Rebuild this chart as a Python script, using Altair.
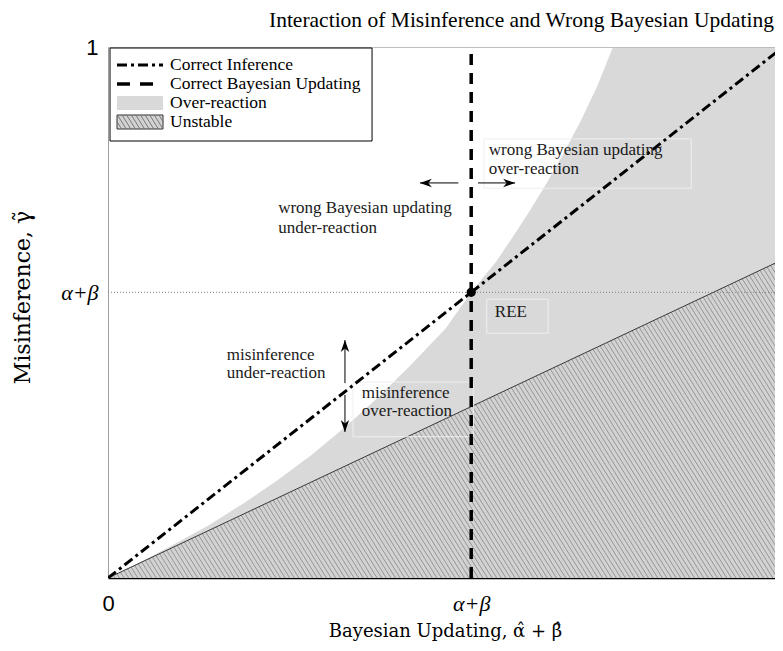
import altair as alt
import numpy as np
import pandas as pd

AB = 0.538  # alpha + beta

# Over-reaction upper boundary
curve_x = [0, 0.05, 0.1, 0.15, 0.2, 0.25, 0.3, 0.35, 0.4, 0.45, 0.5, 0.538, 0.575, 0.6, 0.625, 0.65,
           0.675, 0.7, 0.725, 0.748, 0.8, 0.9, 1.0]
curve_y = [0, 0.031, 0.065, 0.10, 0.14, 0.183, 0.23, 0.283, 0.34, 0.403, 0.47, 0.538, 0.596, 0.643, 0.692, 0.744,
           0.80, 0.86, 0.927, 1.0, 1.0, 1.0, 1.0]
# Unstable boundary
unst_x = [0, 1]
unst_y = [0, 0.6]
# Correct inference
ci_x = [0, 1]
ci_y = [0, 1]
# Correct Bayesian updating
cb_x = [AB, AB]
cb_y = [0, 1]

# annotations
ann_text = ["wrong Bayesian updating", "over-reaction", "wrong Bayesian updating", "under-reaction",
            "misinference", "under-reaction", "misinference", "over-reaction", "REE"]
ann_x = [0.564, 0.564, 0.252, 0.252, 0.176, 0.176, 0.376, 0.376, 0.573]
ann_y = [0.806, 0.770, 0.697, 0.659, 0.420, 0.386, 0.348, 0.314, 0.501]

box_x = [0.557, 0.363, 0.561]
box_x2 = [0.864, 0.541, 0.652]
box_y = [0.827, 0.369, 0.525]
box_y2 = [0.734, 0.266, 0.461]

arr_x = [0.519, 0.548, 0.351, 0.351]
arr_y = [0.744, 0.744, 0.367, 0.345]
arr_x2 = [0.462, 0.603, 0.351, 0.351]
arr_y2 = [0.744, 0.744, 0.448, 0.275]
arr_dir = ["left", "right", "up", "down"]

legend_labels = ["Correct Inference", "Correct Bayesian Updating", "Over-reaction", "Unstable"]

UNIT_W, H = 675, 531          # pixels per unit on x and y
XMAX = 0.988                  # visible part of the x range (figure is cut at the right)
W = int(round(UNIT_W * XMAX))
SERIF = "Liberation Serif"
MATHSERIF = "DejaVu Serif"
SANS = "Liberation Sans"

xs = alt.Scale(domain=[0, XMAX], nice=False, zero=False)
ys = alt.Scale(domain=[0, 1], nice=False, zero=False)

xaxis = alt.Axis(
    values=[0, AB], title="Bayesian Updating, \u03b1\u0302 + \u03b2\u0302",
    labelExpr="datum.value == 0 ? '0' : '\u03b1+\u03b2'",
    labelFont={"condition": {"test": "datum.value == 0", "value": SANS}, "value": SERIF},
    labelFontStyle={"condition": {"test": "datum.value == 0", "value": "normal"}, "value": "italic"},
    labelFontSize=22, labelColor="black", labelPadding=15, labelFlush=False, labelOverlap=False,
    ticks=False, grid=False, domainColor="black", domainWidth=1.5,
    titleFont=MATHSERIF, titleFontSize=18, titleFontWeight="normal", titleColor="black",
    titleX=337, titleY=53, titleBaseline="middle",
)
yaxis = alt.Axis(
    values=[AB, 1], title="Misinference, \u03b3\u0303",
    labelExpr="datum.value == 1 ? '1' : '\u03b1+\u03b2'",
    labelFont={"condition": {"test": "datum.value == 1", "value": SANS}, "value": SERIF},
    labelFontStyle={"condition": {"test": "datum.value == 1", "value": "normal"}, "value": "italic"},
    labelFontSize=22, labelColor="black", labelPadding=10, labelOverlap=False, labelFlush=False,
    ticks=False, grid=False, domainColor="#a0a0a0", domainWidth=1,
    titleFont=MATHSERIF, titleFontSize=22, titleFontWeight="normal", titleColor="black",
    titleX=-86, titleY=250, titleBaseline="middle", titleAngle=-90,
)

def X(f="x"):
    return alt.X(f + ":Q", scale=xs, axis=xaxis)

def Y(f="y"):
    return alt.Y(f + ":Q", scale=ys, axis=yaxis)

# over-reaction area
over = alt.Chart(pd.DataFrame({"x": curve_x, "y": curve_y})).mark_area(
    color="#d9d9d9", interpolate="linear", opacity=1, clip=True
).encode(x=X(), y=Y(), y2=alt.datum(0))

# unstable triangle
unst = alt.Chart(pd.DataFrame({"x": unst_x, "y": unst_y})).mark_area(color="#d2d2d2", opacity=1, clip=True).encode(
    x=X(), y=Y(), y2=alt.datum(0))

# hatch lines (style) inside the unstable triangle
ang = np.radians(58)
k = np.tan(ang) * UNIT_W / H
dc = k * 4.6 / UNIT_W
segs = []
for c in np.arange(dc / 2, k + 0.6, dc):
    xa = c / (k + 0.6); ya = 0.6 * xa
    if xa > 1:
        xa, ya = 1.0, c - k
    xb, yb = c / k, 0.0
    if xb > 1:
        xb, yb = 1.0, c - k
    if ya > yb:
        segs.append((xa, ya, xb, yb))
hatch_df = pd.DataFrame(segs, columns=["x", "y", "x2", "y2"])
hatch = alt.Chart(hatch_df).mark_rule(color="#8e8e8e", strokeWidth=0.9, clip=True).encode(
    x=X(), y=Y(), x2="x2:Q", y2="y2:Q")

unst_line = alt.Chart(pd.DataFrame({"x": unst_x, "y": unst_y})).mark_line(
    color="#3a3a3a", strokeWidth=1, clip=True).encode(x=X(), y=Y())

dotted = alt.Chart(pd.DataFrame({"x": [0, 1], "y": [AB, AB]})).mark_line(
    color="#808080", strokeWidth=1, strokeDash=[1, 2], clip=True).encode(x=X(), y=Y())

top_border = alt.Chart(pd.DataFrame({"x": [0, 1], "y": [1, 1]})).mark_line(
    color="#a0a0a0", strokeWidth=1, clip=True).encode(x=X(), y=Y())

boxes = alt.Chart(pd.DataFrame({"x": box_x, "x2": box_x2, "y": box_y, "y2": box_y2})).mark_rect(
    filled=False, stroke="#efefef", strokeWidth=1).encode(x=X(), x2="x2:Q", y=Y(), y2="y2:Q")

ci = alt.Chart(pd.DataFrame({"x": ci_x, "y": ci_y})).mark_line(
    color="black", strokeWidth=3, strokeDash=[10, 4, 3, 4], clip=True).encode(x=X(), y=Y())
cb = alt.Chart(pd.DataFrame({"x": cb_x, "y": cb_y})).mark_line(
    color="black", strokeWidth=3.5, strokeDash=[11, 8]).encode(x=X(), y=Y())

ree = alt.Chart(pd.DataFrame({"x": [AB], "y": [AB]})).mark_point(
    filled=True, color="black", size=85, opacity=1).encode(x=X(), y=Y())

arr_df = pd.DataFrame({"x": arr_x, "y": arr_y, "x2": arr_x2, "y2": arr_y2, "dir": arr_dir})
shafts = alt.Chart(arr_df).mark_rule(color="black", strokeWidth=1).encode(x=X(), y=Y(), x2="x2:Q", y2="y2:Q")
paths = ["M 0 0 L 2 -0.7 L 1.4 0 L 2 0.7 Z", "M 0 0 L -2 -0.7 L -1.4 0 L -2 0.7 Z",
         "M 0 0 L -0.7 2 L 0 1.4 L 0.7 2 Z", "M 0 0 L -0.7 -2 L 0 -1.4 L 0.7 -2 Z"]
heads = alt.Chart(arr_df).mark_point(filled=True, color="black", opacity=1, size=144, strokeWidth=0).encode(
    x=X("x2"), y=Y("y2"),
    shape=alt.Shape("dir:N", scale=alt.Scale(domain=arr_dir, range=paths), legend=None))

ann = alt.Chart(pd.DataFrame({"x": ann_x, "y": ann_y, "t": ann_text})).mark_text(
    font=SERIF, fontSize=17, align="left", baseline="middle", color="#1a1a1a").encode(
    x=X(), y=Y(), text="t:N")

# ---- legend (placed in plot units) ----
def ux(px):
    return px / UNIT_W

def uy(py):
    return 1 - py / H

leg_box = alt.Chart(pd.DataFrame({"x": [ux(2)], "x2": [ux(264)], "y": [uy(1)], "y2": [uy(94)]})).mark_rect(
    fill="white", stroke="black", strokeWidth=1).encode(x=X(), x2="x2:Q", y=Y(), y2="y2:Q")
leg_rows = [18, 37, 56, 75]
leg_ci = alt.Chart(pd.DataFrame({"x": [ux(9), ux(55)], "y": [uy(leg_rows[0])] * 2})).mark_line(
    color="black", strokeWidth=3, strokeDash=[10, 4, 3, 4]).encode(x=X(), y=Y())
leg_cb = alt.Chart(pd.DataFrame({"x": [ux(9), ux(55)], "y": [uy(leg_rows[1])] * 2})).mark_line(
    color="black", strokeWidth=3.5, strokeDash=[13, 10]).encode(x=X(), y=Y())
leg_over = alt.Chart(pd.DataFrame({"x": [ux(9)], "x2": [ux(55)], "y": [uy(leg_rows[2] - 7)],
                                   "y2": [uy(leg_rows[2] + 7)]})).mark_rect(fill="#d9d9d9").encode(
    x=X(), x2="x2:Q", y=Y(), y2="y2:Q")
ly0, ly1 = leg_rows[3] - 7, leg_rows[3] + 7
leg_un = alt.Chart(pd.DataFrame({"x": [ux(9)], "x2": [ux(55)], "y": [uy(ly0)], "y2": [uy(ly1)]})).mark_rect(
    fill="#d2d2d2", stroke="#333333", strokeWidth=1).encode(x=X(), x2="x2:Q", y=Y(), y2="y2:Q")
t = np.tan(ang)
lsegs = []
for s in np.arange(9 - (ly1 - ly0) / t, 55, 4.6):
    xa, ya = s, ly0
    if xa < 9:
        xa, ya = 9, ly0 + t * (9 - s)
    xb, yb = s + (ly1 - ly0) / t, ly1
    if xb > 55:
        xb, yb = 55, ly0 + t * (55 - s)
    if xb > xa:
        lsegs.append((ux(xa), uy(ya), ux(xb), uy(yb)))
leg_hatch = alt.Chart(pd.DataFrame(lsegs, columns=["x", "y", "x2", "y2"])).mark_rule(
    color="#6e6e6e", strokeWidth=0.9).encode(x=X(), y=Y(), x2="x2:Q", y2="y2:Q")
leg_text = alt.Chart(pd.DataFrame({"x": [ux(62)] * 4, "y": [uy(r) for r in leg_rows], "t": legend_labels})).mark_text(
    font=SERIF, fontSize=17.5, align="left", baseline="middle", color="black").encode(
    x=X(), y=Y(), text="t:N")

chart = alt.layer(
    over, unst, hatch, unst_line, dotted, top_border, boxes, ci, cb, ree, shafts, heads, ann,
    leg_box, leg_ci, leg_cb, leg_over, leg_un, leg_hatch, leg_text
).properties(
    width=W, height=H,
    title=alt.Title("Interaction of Misinference and Wrong Bayesian Updating", font=SERIF, fontSize=21.5,
                    fontWeight="normal", anchor="middle", dx=80, dy=7, offset=12, color="black"),
    autosize=alt.AutoSizeParams(type="none"),
    padding={"left": 100, "top": 39, "right": 0, "bottom": 65},
).configure_view(stroke=None).configure(background="white")

chart.save("out.html", embed_options={"renderer": "svg", "actions": False})
